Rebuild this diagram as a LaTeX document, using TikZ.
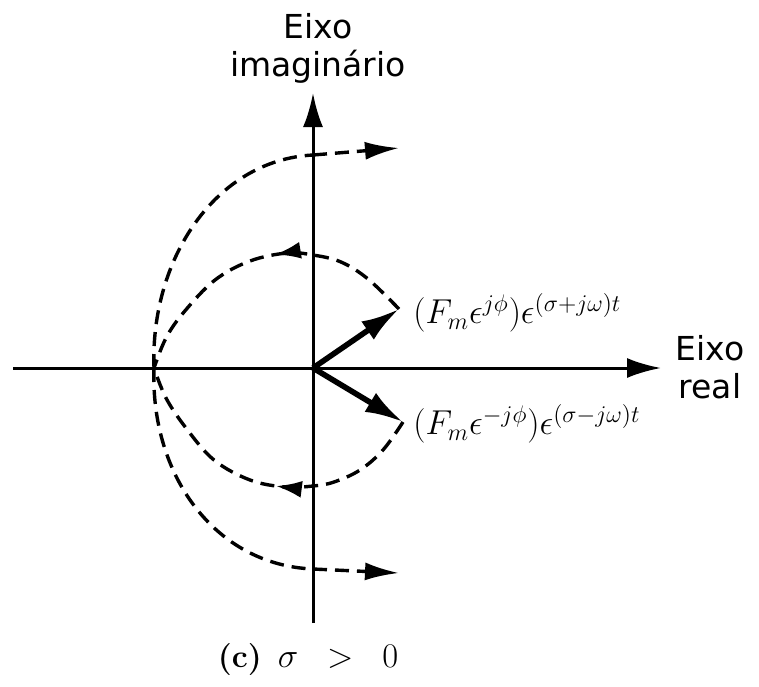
\documentclass[tikz,border=0pt]{standalone}
\usepackage{fontspec}
\usepackage{amsmath}
\newfontfamily\lblfont{DejaVu Sans}
\usetikzlibrary{arrows.meta,decorations.markings}
\tikzset{
  axisline/.style={line width=1.5pt, -{Latex[length=17pt,width=10pt]}},
  traj/.style={line width=1.7pt, dash pattern=on 7pt off 4pt},
  trajend/.style={line width=1.7pt, dash pattern=on 7pt off 4pt, -{Latex[length=17pt,width=9pt]}},
  vecline/.style={line width=2.8pt, -{Latex[length=19pt,width=11pt]}},
  midarrow/.style={postaction={decorate}, decoration={markings, mark=at position #1 with {\arrow{Latex[length=13pt,width=8.5pt]}}}},
  axlabel/.style={font=\lblfont\fontsize{16.5}{19}\selectfont, align=center, inner sep=0pt},
  formula/.style={font=\fontsize{17}{19}\selectfont, inner sep=0pt, anchor=west},
}
\begin{document}
\begin{tikzpicture}[x=0.5pt,y=-0.5pt]
\useasboundingbox (0,0) rectangle (759,686);
% axes
\coordinate (O) at (313,368);
\coordinate (xl) at (13,368);
\coordinate (xr) at (661,368);
\coordinate (yb) at (313,623);
\coordinate (yt) at (313,93);
\draw[axisline] (xl) -- (xr);
\draw[axisline] (yb) -- (yt);
% phasor tips
\coordinate (P1) at (399,309);
\coordinate (P2) at (403,422);
\draw[vecline] (O) -- (P1);
\draw[vecline] (O) -- (P2);
% crossing point and outer curve
\coordinate (C) at (154,368);
\coordinate (T1) at (313,155);
\coordinate (T2) at (313,569);
\coordinate (E1) at (399,148);
\coordinate (E2) at (399,573);
\draw[traj] (C) .. controls (150,260) and (215,160) .. (T1);
\draw[traj] (C) .. controls (150,475) and (215,565) .. (T2);
\draw[trajend] (T1) -- (E1);
\draw[trajend] (T2) -- (E2);
% inner curves
\draw[traj, midarrow=0.45] plot[smooth, tension=0.6] coordinates {(P1) (368,279) (341,262) (313,255) (287,253) (250,261) (215,280) (184,312) (166,338) (C)};
\draw[traj, midarrow=0.46] plot[smooth, tension=0.6] coordinates {(P2) (383,450) (360,470) (334,482) (313,486) (285,487) (250,480) (214,460) (186,428) (166,398) (C)};
% labels
\node[axlabel] (imlab) at (318,48) {Eixo\\imaginário};
\node[axlabel] (relab) at (710,367) {Eixo\\real};
\node[formula] (f1) at (413,313) {$(F_m\epsilon^{j\phi})\epsilon^{(\sigma+j\omega)t}$};
\node[formula] (f2) at (413,424) {$(F_m\epsilon^{-j\phi})\epsilon^{(\sigma-j\omega)t}$};
\node[font=\fontsize{16}{18}\selectfont, inner sep=0pt] (cap) at (308,660) {\textbf{(c)}\enspace$\sigma\;\;>\;\;0$};
\end{tikzpicture}
\end{document}
